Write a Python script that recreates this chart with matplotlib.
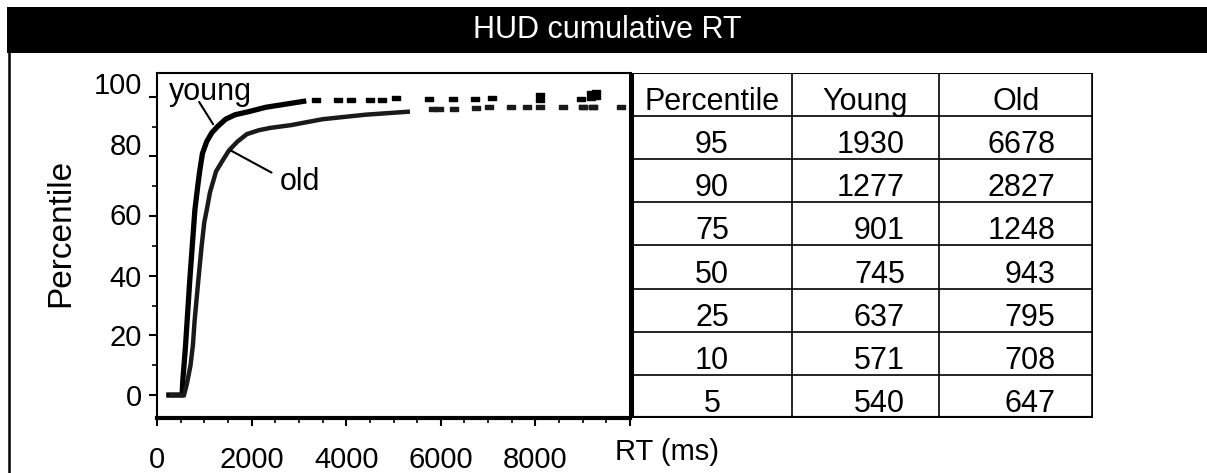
import matplotlib.pyplot as plt
from matplotlib.transforms import ScaledTranslation
from matplotlib.patches import Rectangle
from matplotlib.lines import Line2D

plt.rcParams['font.family'] = ['Liberation Sans', 'DejaVu Sans']

title = "HUD cumulative RT"

# cumulative curves (RT in ms, percentile)
young_rt = [250, 530, 545, 571, 600, 637, 690, 745, 800, 860, 901, 960, 1050, 1160, 1277, 1450, 1650, 1930, 2300, 2700, 3100]
young_pct = [0, 0, 5, 10, 16, 25, 38, 50, 62, 70, 75, 81, 85, 88, 90, 92.5, 94, 95, 96.5, 97.5, 98.5]
young_tail_rt = [3370, 3830, 4100, 4500, 4760, 5060, 5740, 6250, 6720, 7080, 8090, 8090, 8970, 9170, 9170, 9280, 9280]
young_tail_pct = [99.1, 99.1, 99.1, 99.1, 99.1, 99.7, 99.3, 99.3, 99.3, 99.6, 99.1, 100.6, 99.3, 101.2, 99.6, 101.7, 99.9]

old_rt = [300, 570, 620, 647, 708, 760, 795, 870, 943, 1000, 1050, 1120, 1248, 1400, 1520, 1700, 1900, 2150, 2400, 2827, 3500, 4400, 5300]
old_pct = [0, 0, 3, 5, 10, 17, 25, 38, 50, 58, 62, 68, 75, 79, 82, 85, 87.5, 88.8, 89.6, 90.5, 92.5, 94, 95]
old_tail_rt = [5840, 5960, 6270, 6750, 7010, 7480, 7830, 8090, 8590, 9000, 9000, 9210, 9210, 9800]
old_tail_pct = [96.0, 96.0, 96.0, 96.3, 96.6, 96.6, 96.6, 96.6, 96.6, 96.6, 96.6, 96.6, 96.6, 96.6]

# table of percentiles
table_header = ["Percentile", "Young", "Old"]
table_pct = [95, 90, 75, 50, 25, 10, 5]
table_young = [1930, 1277, 901, 745, 637, 571, 540]
table_old = [6678, 2827, 1248, 943, 795, 708, 647]

dash = [(-1, -0.4), (1, -0.4), (1, 0.4), (-1, 0.4), (-1, -0.4)]

fig = plt.figure(figsize=(12.07, 4.73), dpi=100)

# title bar
fig.patches.append(Rectangle((0.0058, 0.888), 0.9942, 0.097, transform=fig.transFigure,
                             facecolor='black', edgecolor='none'))
fig.text(0.503, 0.937, title, color='white', ha='center', va='center', fontsize=22)
fig.add_artist(Line2D([0.0075, 0.0075], [0, 0.888], transform=fig.transFigure, color='black', lw=1.8))

# main plot
ax = fig.add_axes([0.1301, 0.1163, 0.3919, 0.7294])
ax.plot(young_rt, young_pct, color='black', lw=3.8, solid_joinstyle='miter')
ax.plot(young_tail_rt, young_tail_pct, linestyle='none', marker=dash, color='black', ms=6)
ax.plot(old_rt, old_pct, color='#1a1a1a', lw=3.2, solid_joinstyle='miter')
ax.plot(old_tail_rt, old_tail_pct, linestyle='none', marker=dash, color='#1a1a1a', ms=6)

ax.set_xlim(0, 10000)
ax.set_ylim(-7.7, 108)
ax.set_xticks([0, 2000, 4000, 6000, 8000, 10000])
ax.set_xticklabels(['0', '2000', '4000', '6000', '8000', ''])
ax.set_xticks(range(0, 10001, 500), minor=True)
ax.set_yticks([0, 20, 40, 60, 80, 100])
ax.set_yticks(range(0, 101, 10), minor=True)
ax.tick_params(axis='both', which='major', direction='out', labelsize=21, width=1.5, length=6)
ax.tick_params(axis='both', which='minor', direction='out', width=1.2, length=3.5)
ax.tick_params(axis='x', which='major', pad=14)
ax.tick_params(axis='y', which='major', pad=5)

for lab, dy in zip(ax.get_yticklabels(), [0, 0, 0, 2, 12, 14]):
    lab.set_transform(lab.get_transform() + ScaledTranslation(0, dy / 100, fig.dpi_scale_trans))

for side in ['left', 'top', 'right']:
    ax.spines[side].set_linewidth(1.5)
ax.spines['right'].set_linewidth(2.2)
ax.spines['bottom'].set_linewidth(3.0)

ax.annotate('', xy=(1186, 90.8), xytext=(890, 98.3),
            arrowprops=dict(arrowstyle='-', color='black', lw=1.5, shrinkA=0, shrinkB=0))
ax.text(1120, 101.7, 'young', fontsize=22, ha='center', va='center')
ax.annotate('', xy=(1560, 82), xytext=(2420, 74.6),
            arrowprops=dict(arrowstyle='-', color='black', lw=1.5, shrinkA=0, shrinkB=0))
ax.text(3030, 71.5, 'old', fontsize=22, ha='center', va='center')

fig.text(0.5095, 0.0444, 'RT (ms)', fontsize=21, ha='left', va='center')
fig.text(0.0505, 0.507, 'Percentile', fontsize=24, ha='center', va='center', rotation=90)

# table
tb = fig.add_axes([0.5236, 0.1163, 0.382, 0.7294])
tb.set_xlim(0, 1)
tb.set_ylim(0, 8)
tb.axis('off')
col_edges = [0, 0.347, 0.666, 1]
nrows = len(table_pct) + 1
for i in range(1, nrows):
    tb.axhline(i, color='black', lw=1.2)
for x in col_edges[1:-1]:
    tb.axvline(x, color='black', lw=1.2)
tb.axvline(0, color='black', lw=2.2)
tb.axvline(1, color='black', lw=2.6)
tb.axhline(8, color='black', lw=1.5)
tb.axhline(0, color='black', lw=3.0)

base = 0.14
tb.text(0.1735, 7 + base, table_header[0], fontsize=22, ha='center', va='baseline')
tb.text(0.5055, 7 + base, table_header[1], fontsize=22, ha='center', va='baseline')
tb.text(0.833, 7 + base, table_header[2], fontsize=22, ha='center', va='baseline')
for i, (p, y, o) in enumerate(zip(table_pct, table_young, table_old)):
    row = 6 - i
    tb.text(0.1735, row + base, str(p), fontsize=22, ha='center', va='baseline')
    tb.text(0.592, row + base, str(y), fontsize=22, ha='right', va='baseline')
    tb.text(0.918, row + base, str(o), fontsize=22, ha='right', va='baseline')

fig.savefig('out.png', dpi=100)
